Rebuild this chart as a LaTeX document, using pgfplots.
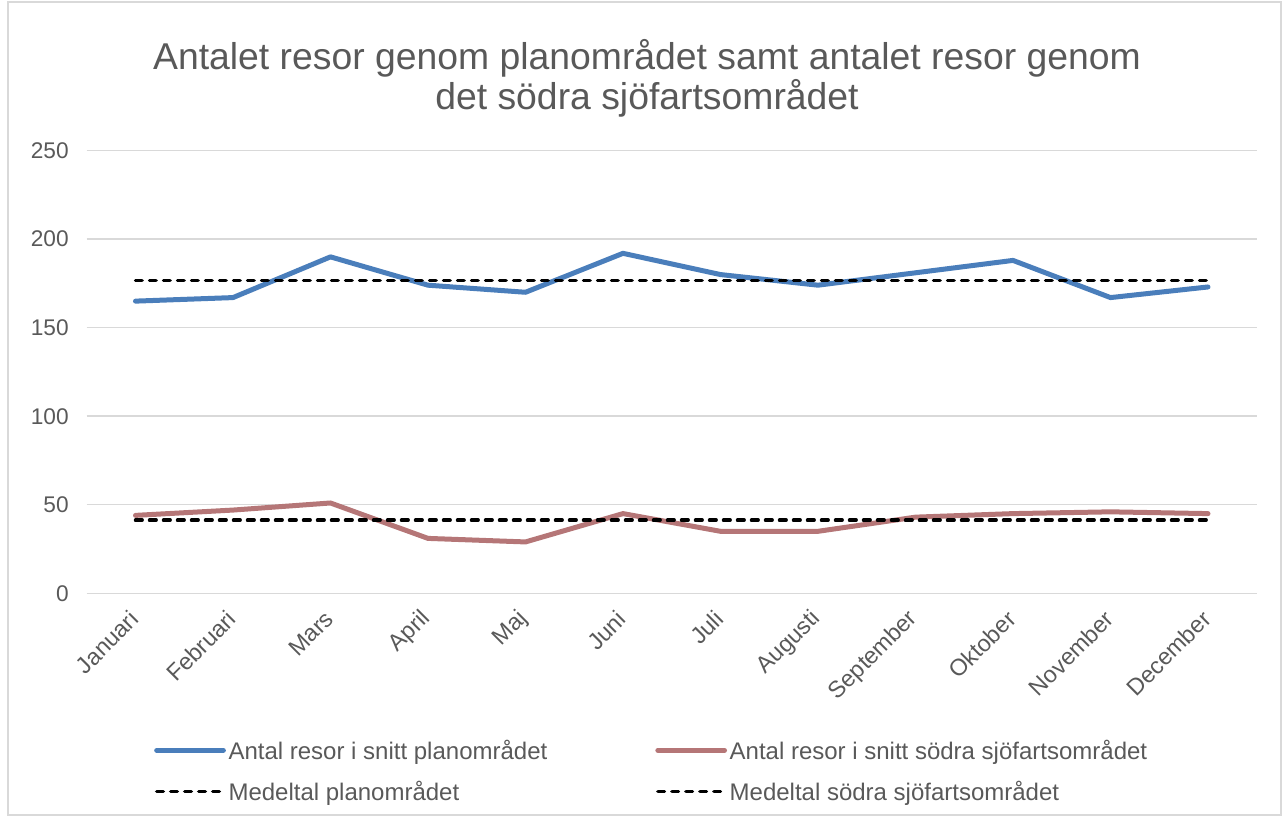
\documentclass[border=0pt]{standalone}
\usepackage{fontspec}
\setmainfont{Liberation Sans}
\usepackage{pgfplots}
\pgfplotsset{compat=1.18}
\definecolor{txt}{HTML}{595959}
\definecolor{gridc}{HTML}{D9D9D9}
\definecolor{blueline}{HTML}{4A7EBB}
\definecolor{redline}{HTML}{B57677}
\begin{document}
\begin{tikzpicture}
% canvas = 1283x817 px at 0.75pt per px
\path[use as bounding box] (0pt,0pt) rectangle (962.25pt,612.75pt);
\draw[gridc, line width=1.1pt] (6pt,1.5pt) rectangle (960.75pt,611.25pt);
\node[txt, align=center, font=\fontsize{28}{30}\selectfont] at (485.25pt,554pt)
  {Antalet resor genom planområdet samt antalet resor genom\\det södra sjöfartsområdet};
\begin{axis}[
  at={(65.06pt,167.78pt)}, anchor=south west,
  scale only axis, width=877.5pt, height=332pt,
  xmin=-0.5, xmax=11.5, ymin=0, ymax=250,
  xtick={0,...,11},
  xticklabels={Januari,Februari,Mars,April,Maj,Juni,Juli,Augusti,September,Oktober,November,December},
  ytick={0,50,...,250},
  ymajorgrids, grid style={gridc, line width=1.1pt},
  axis line style={draw=none}, major tick length=0pt,
  tick label style={txt, font=\fontsize{17}{20}\selectfont},
  /pgf/number format/assume math mode=true,
  yticklabel style={xshift=-10pt},
  xticklabel style={font=\fontsize{17.5}{20}\selectfont, xshift=1.5pt, yshift=-14pt, rotate=45, anchor=east},
  clip=false,
  legend columns=2,
  legend cell align=left,
  legend style={at={(0.054,-0.318)}, anchor=north west, draw=none, fill=none,
    font=\fontsize{18}{21}\selectfont, text=txt,
    /tikz/every even column/.append style={column sep=79pt},
    row sep=11pt},
  legend image code/.code={\draw[#1] (0pt,0pt) -- (50pt,0pt);},
  every axis plot/.append style={line join=round},
  meanline/.style={black, line width=2.6pt, line cap=round, dash pattern=on 5pt off 5.5pt},
]
\addplot[blueline, line width=3.75pt, line cap=round] coordinates {
  (0,165) (1,167) (2,190) (3,174) (4,170) (5,192)
  (6,180) (7,174) (8,181) (9,188) (10,167) (11,173)};
\addlegendentry{Antal resor i snitt planområdet}
\addplot[redline, line width=3.75pt, line cap=round] coordinates {
  (0,44) (1,47) (2,51) (3,31) (4,29) (5,45)
  (6,35) (7,35) (8,43) (9,45) (10,46) (11,45)};
\addlegendentry{Antal resor i snitt södra sjöfartsområdet}
\addplot[meanline] coordinates {
  (0,176.5) (1,176.5) (2,176.5) (3,176.5) (4,176.5) (5,176.5)
  (6,176.5) (7,176.5) (8,176.5) (9,176.5) (10,176.5) (11,176.5)};
\addlegendentry{Medeltal planområdet}
\addplot[meanline] coordinates {
  (0,41.3) (1,41.3) (2,41.3) (3,41.3) (4,41.3) (5,41.3)
  (6,41.3) (7,41.3) (8,41.3) (9,41.3) (10,41.3) (11,41.3)};
\addlegendentry{Medeltal södra sjöfartsområdet}
\end{axis}
\end{tikzpicture}
\end{document}
